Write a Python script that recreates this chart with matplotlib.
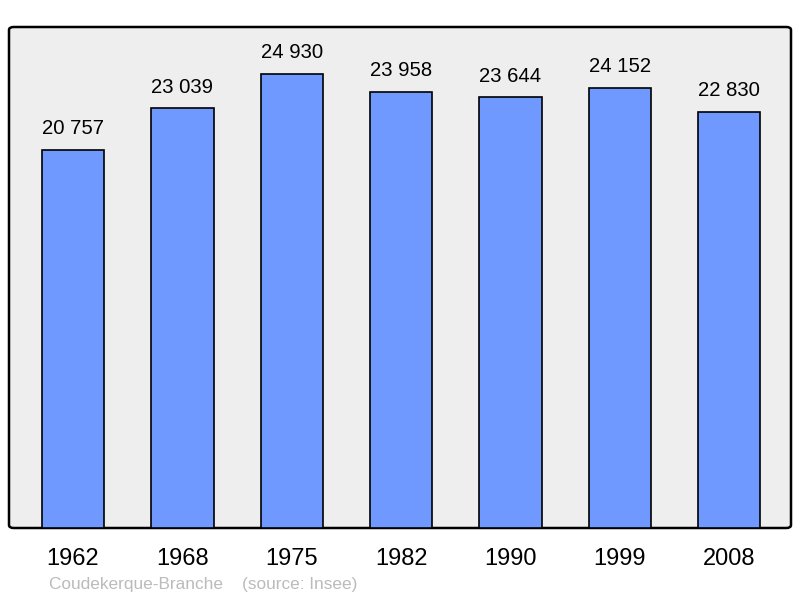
import matplotlib.pyplot as plt
from matplotlib.patches import FancyBboxPatch

# donnees
annees = ['1962', '1968', '1975', '1982', '1990', '1999', '2008']
population = [20757, 23039, 24930, 23958, 23644, 24152, 22830]
etiquettes = ['20 757', '23 039', '24 930', '23 958', '23 644', '24 152', '22 830']

plt.rcParams['font.family'] = ['Liberation Sans', 'DejaVu Sans']

fig = plt.figure(figsize=(8, 5.98), dpi=100)
ax = fig.add_axes([9/800, 70/598, 782/800, 501/598])
ax.set_xlim(-0.585, 6.565)
ax.set_ylim(0, 27510)
ax.axis('off')

# cadre arrondi
cadre = FancyBboxPatch((0, 0), 1, 1, boxstyle='round,pad=0,rounding_size=0.006',
                       transform=ax.transAxes, facecolor='#eeeeee',
                       edgecolor='black', linewidth=1.8, zorder=0, clip_on=False)
ax.add_patch(cadre)

x = range(len(annees))
barres = ax.bar(x, population, width=0.57, color='#7099ff', edgecolor='black',
                linewidth=1.2, zorder=2)

for i, v in enumerate(population):
    ax.text(i, v + 650, etiquettes[i], ha='center', va='bottom', fontsize=14.6)

for i, a in enumerate(annees):
    ax.text(i, -1690, a, ha='center', va='center', fontsize=17)

fig.text(49/800, 1 - 584/598, 'Coudekerque-Branche    (source: Insee)',
         color='#bbbbbb', fontsize=12.4, va='center', ha='left')

fig.savefig('out.png', dpi=100)
